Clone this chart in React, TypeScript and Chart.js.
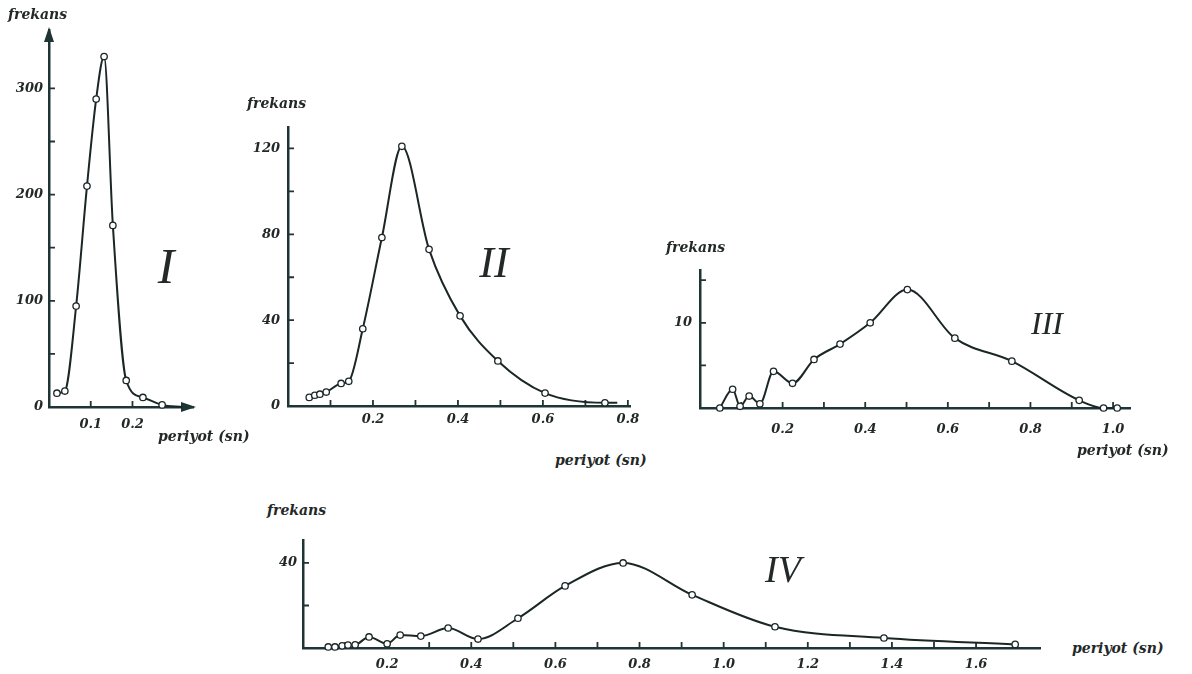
import React, { useEffect, useRef } from 'react';
import { Chart, registerables } from 'chart.js';

Chart.register(...registerables);

// ---------- data (period in s, frequency) ----------
const periodI = [0.019, 0.038, 0.065, 0.091, 0.113, 0.132, 0.153, 0.185, 0.225, 0.271, 0.32];
const freqI = [13, 15, 95, 208, 290, 330, 171, 25, 9, 2, 0];
const yTicksI = [0, 50, 100, 150, 200, 250, 300];
const yLabelsI = [0, 100, 200, 300];
const xTicksI = [0.1, 0.2];
const xLabelsI = [0.1, 0.2];

const periodII = [0.05, 0.063, 0.075, 0.09, 0.125, 0.143, 0.176, 0.221, 0.268, 0.332, 0.405, 0.494, 0.605, 0.746, 0.775];
const freqII = [4, 5, 5.5, 6.5, 10.5, 11.5, 36, 78.5, 121, 73, 42, 21, 6, 1.5, 1.5];
const yTicksII = [0, 20, 40, 60, 80, 100, 120];
const yLabelsII = [0, 40, 80, 120];
const xTicksII = [0.1, 0.2, 0.3, 0.4, 0.5, 0.6, 0.7, 0.8];
const xLabelsII = [0.2, 0.4, 0.6, 0.8];

const periodIII = [0.048, 0.079, 0.097, 0.119, 0.145, 0.178, 0.224, 0.276, 0.339, 0.412, 0.502, 0.617, 0.755, 0.918, 0.977, 1.01];
const freqIII = [0, 2.2, 0.2, 1.4, 0.5, 4.3, 2.9, 5.7, 7.5, 10, 13.9, 8.2, 5.5, 0.9, 0, 0];
const yTicksIII = [0, 5, 10, 15];
const yLabelsIII = [10];
const xTicksIII = [0.1, 0.2, 0.3, 0.4, 0.5, 0.6, 0.7, 0.8, 0.9, 1.0];
const xLabelsIII = [0.2, 0.4, 0.6, 0.8, 1.0];

const periodIV = [0.06, 0.076, 0.093, 0.107, 0.124, 0.157, 0.2, 0.231, 0.28, 0.345, 0.416, 0.511, 0.623, 0.761, 0.925, 1.122, 1.381, 1.693];
const freqIV = [0.5, 0.5, 1, 1.4, 1.5, 5.2, 2, 6.1, 5.6, 9.4, 4.2, 14, 29.2, 40, 25, 10, 4.7, 1.7];
const yTicksIV = [0, 20, 40];
const yLabelsIV = [40];
const xTicksIV = [0.1, 0.2, 0.3, 0.4, 0.5, 0.6, 0.7, 0.8, 0.9, 1.0, 1.1, 1.2, 1.3, 1.4, 1.5, 1.6];
const xLabelsIV = [0.2, 0.4, 0.6, 0.8, 1.0, 1.2, 1.4, 1.6];

const yLabelText = 'frekans';
const xLabelText = 'periyot (sn)';
const panelNames = ['I', 'II', 'III', 'IV'];

// ---------- styles ----------
const INK = '#1b2626';
const AXIS = '#1f3434';
const TEXT = '#232828';
const SERIF = '"DejaVu Serif", "Liberation Serif", serif';
const ROMAN = '"Liberation Serif", "DejaVu Serif", serif';

type PanelCfg = {
  left: number; top: number; width: number; height: number;
  axisW: number; axisH: number; padTop: number; padRight: number;
  xMax: number; yMax: number;
  periods: number[]; freqs: number[];
  xTicks: number[]; xLabels: number[]; yTicks: number[]; yLabels: number[];
  xPad: number; yPad: number; plainTail: number; arrows: boolean;
};

const panels: PanelCfg[] = [
  { left: 0, top: 0, width: 215, height: 445, axisW: 49, axisH: 38, padTop: 30, padRight: 22,
    xMax: 0.345, yMax: 355, periods: periodI, freqs: freqI, xTicks: xTicksI, xLabels: xLabelsI,
    yTicks: yTicksI, yLabels: yLabelsI, xPad: 10, yPad: 6, plainTail: 1, arrows: true },
  { left: 230, top: 100, width: 420, height: 340, axisW: 58, axisH: 34, padTop: 27, padRight: 20,
    xMax: 0.805, yMax: 130, periods: periodII, freqs: freqII, xTicks: xTicksII, xLabels: xLabelsII,
    yTicks: yTicksII, yLabels: yLabelsII, xPad: 6, yPad: 8, plainTail: 1, arrows: false },
  { left: 650, top: 255, width: 510, height: 200, axisW: 50, axisH: 47, padTop: 15, padRight: 30,
    xMax: 1.041, yMax: 16.2, periods: periodIII, freqs: freqIII, xTicks: xTicksIII, xLabels: xLabelsIII,
    yTicks: yTicksIII, yLabels: yLabelsIII, xPad: 14, yPad: 8, plainTail: 0, arrows: false },
  { left: 250, top: 525, width: 810, height: 149, axisW: 53, axisH: 26, padTop: 15, padRight: 20,
    xMax: 1.752, yMax: 50.8, periods: periodIV, freqs: freqIV, xTicks: xTicksIV, xLabels: xLabelsIV,
    yTicks: yTicksIV, yLabels: yLabelsIV, xPad: 9, yPad: 6, plainTail: 0, arrows: false },
];

type TextItem = { text: string; x: number; cy: number; size: number; roman?: boolean; center?: boolean };
const texts: TextItem[] = [
  { text: yLabelText, x: 8, cy: 14, size: 14 },
  { text: xLabelText, x: 158, cy: 436, size: 14 },
  { text: panelNames[0], x: 166, cy: 266, size: 50, roman: true, center: true },
  { text: yLabelText, x: 247, cy: 103, size: 14 },
  { text: xLabelText, x: 555, cy: 460, size: 14 },
  { text: panelNames[1], x: 494, cy: 263, size: 44, roman: true, center: true },
  { text: yLabelText, x: 666, cy: 247, size: 14 },
  { text: xLabelText, x: 1077, cy: 450, size: 14 },
  { text: panelNames[2], x: 1047, cy: 323, size: 32, roman: true, center: true },
  { text: yLabelText, x: 267, cy: 510, size: 14 },
  { text: xLabelText, x: 1072, cy: 648, size: 14 },
  { text: panelNames[3], x: 783, cy: 569, size: 38, roman: true, center: true },
];

const inwardTicks = {
  id: 'inwardTicks',
  beforeDatasetsDraw(chart: any, _args: any, opts: any) {
    const { ctx, chartArea } = chart;
    const xs = chart.scales.x;
    const ys = chart.scales.y;
    const len = 6;
    ctx.save();
    ctx.strokeStyle = AXIS;
    ctx.lineWidth = 1.8;
    ctx.beginPath();
    for (const t of xs.ticks) {
      if (t.value === 0) continue;
      const px = xs.getPixelForValue(t.value);
      ctx.moveTo(px, chartArea.bottom);
      ctx.lineTo(px, chartArea.bottom - len);
    }
    for (const t of ys.ticks) {
      if (t.value === 0) continue;
      const py = ys.getPixelForValue(t.value);
      ctx.moveTo(chartArea.left, py);
      ctx.lineTo(chartArea.left + len, py);
    }
    ctx.stroke();
    if (opts && opts.arrows) {
      ctx.fillStyle = AXIS;
      ctx.beginPath();
      ctx.moveTo(chartArea.left, chartArea.top - 3);
      ctx.lineTo(chartArea.left - 5, chartArea.top + 12);
      ctx.lineTo(chartArea.left + 5, chartArea.top + 12);
      ctx.closePath();
      ctx.fill();
      ctx.beginPath();
      ctx.moveTo(chartArea.right + 3, chartArea.bottom);
      ctx.lineTo(chartArea.right - 12, chartArea.bottom - 5);
      ctx.lineTo(chartArea.right - 12, chartArea.bottom + 5);
      ctx.closePath();
      ctx.fill();
    }
    ctx.restore();
  },
};

const tickFont = { family: SERIF, size: 13, style: 'italic' as const, weight: 'bold' as const };

function Panel({ p }: { p: PanelCfg }) {
  const ref = useRef<HTMLCanvasElement>(null);
  useEffect(() => {
    if (!ref.current) return;
    const n = p.periods.length;
    const chart = new Chart(ref.current, {
      type: 'line',
      data: {
        datasets: [
          {
            data: p.periods.map((x, i) => ({ x, y: p.freqs[i] })),
            borderColor: INK,
            borderWidth: 2,
            cubicInterpolationMode: 'monotone',
            pointRadius: (c: any) => (c.dataIndex >= n - p.plainTail ? 0 : 3.2),
            pointBackgroundColor: '#ffffff',
            pointBorderColor: INK,
            pointBorderWidth: 1.3,
            clip: false,
          } as any,
        ],
      },
      options: {
        animation: false,
        responsive: false,
        maintainAspectRatio: false,
        devicePixelRatio: 1,
        events: [],
        layout: { padding: { top: p.padTop, right: p.padRight, left: 0, bottom: 0 } },
        plugins: {
          legend: { display: false },
          tooltip: { enabled: false },
          inwardTicks: { arrows: p.arrows },
        } as any,
        scales: {
          x: {
            type: 'linear',
            min: 0,
            max: p.xMax,
            grid: { display: false, drawTicks: false },
            border: { display: true, color: AXIS, width: 2.5 },
            ticks: {
              autoSkip: false,
              maxRotation: 0,
              padding: p.xPad,
              color: TEXT,
              font: tickFont,
              callback: (v: any) => (p.xLabels.includes(v) ? Number(v).toFixed(1) : ''),
            },
            afterBuildTicks: (s: any) => {
              s.ticks = p.xTicks.map((v) => ({ value: v }));
            },
            afterFit: (s: any) => {
              s.height = p.axisH;
              s.paddingLeft = 0;
              s.paddingRight = 0;
            },
          },
          y: {
            type: 'linear',
            min: 0,
            max: p.yMax,
            grid: { display: false, drawTicks: false },
            border: { display: true, color: AXIS, width: 2.5 },
            ticks: {
              autoSkip: false,
              padding: p.yPad,
              color: TEXT,
              font: tickFont,
              callback: (v: any) => (p.yLabels.includes(v) ? String(v) : ''),
            },
            afterBuildTicks: (s: any) => {
              s.ticks = p.yTicks.map((v) => ({ value: v }));
            },
            afterFit: (s: any) => {
              s.width = p.axisW;
              s.paddingTop = 0;
              s.paddingBottom = 0;
            },
          },
        },
      } as any,
      plugins: [inwardTicks as any],
    });
    return () => chart.destroy();
  }, []);
  return (
    <canvas
      ref={ref}
      width={p.width}
      height={p.height}
      style={{ position: 'absolute', left: p.left, top: p.top, width: p.width, height: p.height }}
    />
  );
}

export default function App() {
  return (
    <div style={{ position: 'fixed', left: 0, top: 0, width: 1192, height: 674, background: '#ffffff', overflow: 'hidden' }}>
      {panels.map((p, i) => (
        <Panel key={i} p={p} />
      ))}
      {texts.map((t, i) => (
        <div
          key={'t' + i}
          style={{
            position: 'absolute',
            left: t.x,
            top: t.roman ? t.cy - t.size * 0.51 : t.cy - 9,
            transform: t.center ? 'translateX(-50%)' : undefined,
            fontFamily: t.roman ? ROMAN : SERIF,
            fontSize: t.size,
            lineHeight: t.roman ? `${t.size}px` : '18px',
            fontStyle: 'italic',
            fontWeight: t.roman ? 'normal' : 'bold',
            color: TEXT,
            whiteSpace: 'nowrap',
          }}
        >
          {t.text}
        </div>
      ))}
    </div>
  );
}
